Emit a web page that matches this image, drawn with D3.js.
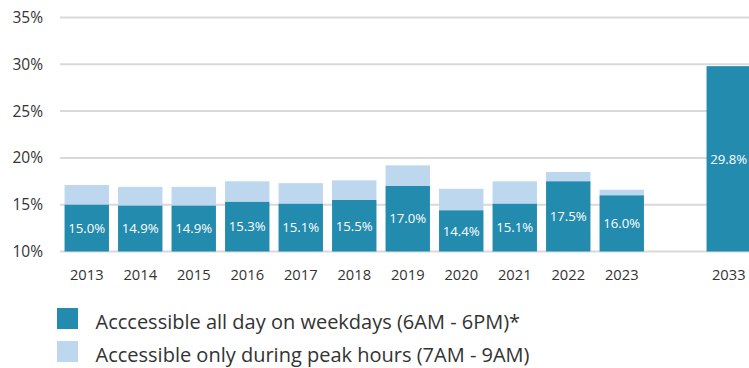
<!DOCTYPE html>
<html>
<head>
<meta charset="utf-8">
<script src="https://cdn.jsdelivr.net/npm/d3@7"></script>
<style>
  html, body { margin: 0; padding: 0; background: #fff; }
  svg { display: block; font-family: "Open Sans", sans-serif; }
</style>
</head>
<body>
<svg id="chart" width="749" height="368"></svg>
<script>
// Share of jobs reachable, by year
const categories = ["2013", "2014", "2015", "2016", "2017", "2018", "2019", "2020", "2021", "2022", "2023", "2033"];
// All-day weekday access (6AM - 6PM), in %
const allDay = [15.0, 14.9, 14.9, 15.3, 15.1, 15.5, 17.0, 14.4, 15.1, 17.5, 16.0, 29.8];
// Additional share reachable only in the morning peak (7AM - 9AM), in %
const peakOnly = [2.1, 2.0, 2.0, 2.2, 2.2, 2.1, 2.2, 2.3, 2.4, 1.0, 0.6, 0];
const yTicks = [10, 15, 20, 25, 30, 35];
const legendLabels = [
  "Acccessible all day on weekdays (6AM - 6PM)*",
  "Accessible only during peak hours (7AM - 9AM)"
];

const colors = { allDay: "#238bad", peak: "#bdd7ee", grid: "#d9d9d9", text: "#333333" };

const svg = d3.select("#chart");
const plot = { left: 60, right: 755.5, top: 17.5, bottom: 251.5 };

// an empty slot separates the observed years from the projection
const slots = [...categories.slice(0, -1), "__gap__", categories[categories.length - 1]];
const x = d3.scaleBand().domain(slots).range([plot.left, plot.right])
  .paddingInner(0.17).paddingOuter(0.085);
const y = d3.scaleLinear().domain([10, 35]).range([plot.bottom, plot.top]);

// horizontal gridlines
svg.append("g").selectAll("line").data(yTicks).join("line")
  .attr("x1", plot.left).attr("x2", 749)
  .attr("y1", d => y(d)).attr("y2", d => y(d))
  .attr("stroke", colors.grid).attr("stroke-width", 2);

// y axis labels
const yAxis = svg.append("g").attr("transform", `translate(43,0)`)
  .call(d3.axisLeft(y).tickValues(yTicks).tickFormat(d => d + "%").tickSize(0).tickPadding(0));
yAxis.select(".domain").remove();
yAxis.selectAll("text").attr("fill", colors.text).style("font-size", "15.5px")
  .style("font-family", "'Open Sans', sans-serif");

const rows = categories.map((c, i) => ({ cat: c, allDay: allDay[i], peak: peakOnly[i] }));

// stacked bars: all-day segment, with peak-only share on top
const bars = svg.append("g");
bars.selectAll("rect.peak").data(rows.filter(d => d.peak > 0)).join("rect")
  .attr("class", "peak")
  .attr("x", d => x(d.cat)).attr("width", x.bandwidth())
  .attr("y", d => y(d.allDay + d.peak))
  .attr("height", d => y(d.allDay) - y(d.allDay + d.peak))
  .attr("fill", colors.peak);
bars.selectAll("rect.all").data(rows).join("rect")
  .attr("class", "all")
  .attr("x", d => x(d.cat)).attr("width", x.bandwidth())
  .attr("y", d => y(d.allDay))
  .attr("height", d => y(10) - y(d.allDay))
  .attr("fill", colors.allDay);

// value labels centred in the all-day segment
bars.selectAll("text").data(rows).join("text")
  .attr("x", d => x(d.cat) + x.bandwidth() / 2)
  .attr("y", d => (y(d.allDay) + y(10)) / 2)
  .attr("dy", "0.36em")
  .attr("text-anchor", "middle")
  .attr("fill", "#ffffff")
  .style("font-size", "13.2px")
  .text(d => d.allDay.toFixed(1) + "%");

// x axis labels
const xAxis = svg.append("g").attr("transform", `translate(0,${plot.bottom})`)
  .call(d3.axisBottom(x).tickValues(categories).tickSize(0).tickPadding(18));
xAxis.select(".domain").remove();
xAxis.selectAll("text").attr("fill", colors.text).style("font-size", "14.7px")
  .style("font-family", "'Open Sans', sans-serif");

// legend
const legend = svg.append("g").attr("transform", "translate(57,308)");
const items = legend.selectAll("g").data(legendLabels).join("g")
  .attr("transform", (d, i) => `translate(0,${i * 33})`);
items.append("rect").attr("width", 21).attr("height", 21)
  .attr("fill", (d, i) => i === 0 ? colors.allDay : colors.peak);
items.append("text").attr("x", 38.5).attr("y", 21)
  .attr("fill", colors.text).style("font-size", "20px")
  .text(d => d);
</script>
</body>
</html>
